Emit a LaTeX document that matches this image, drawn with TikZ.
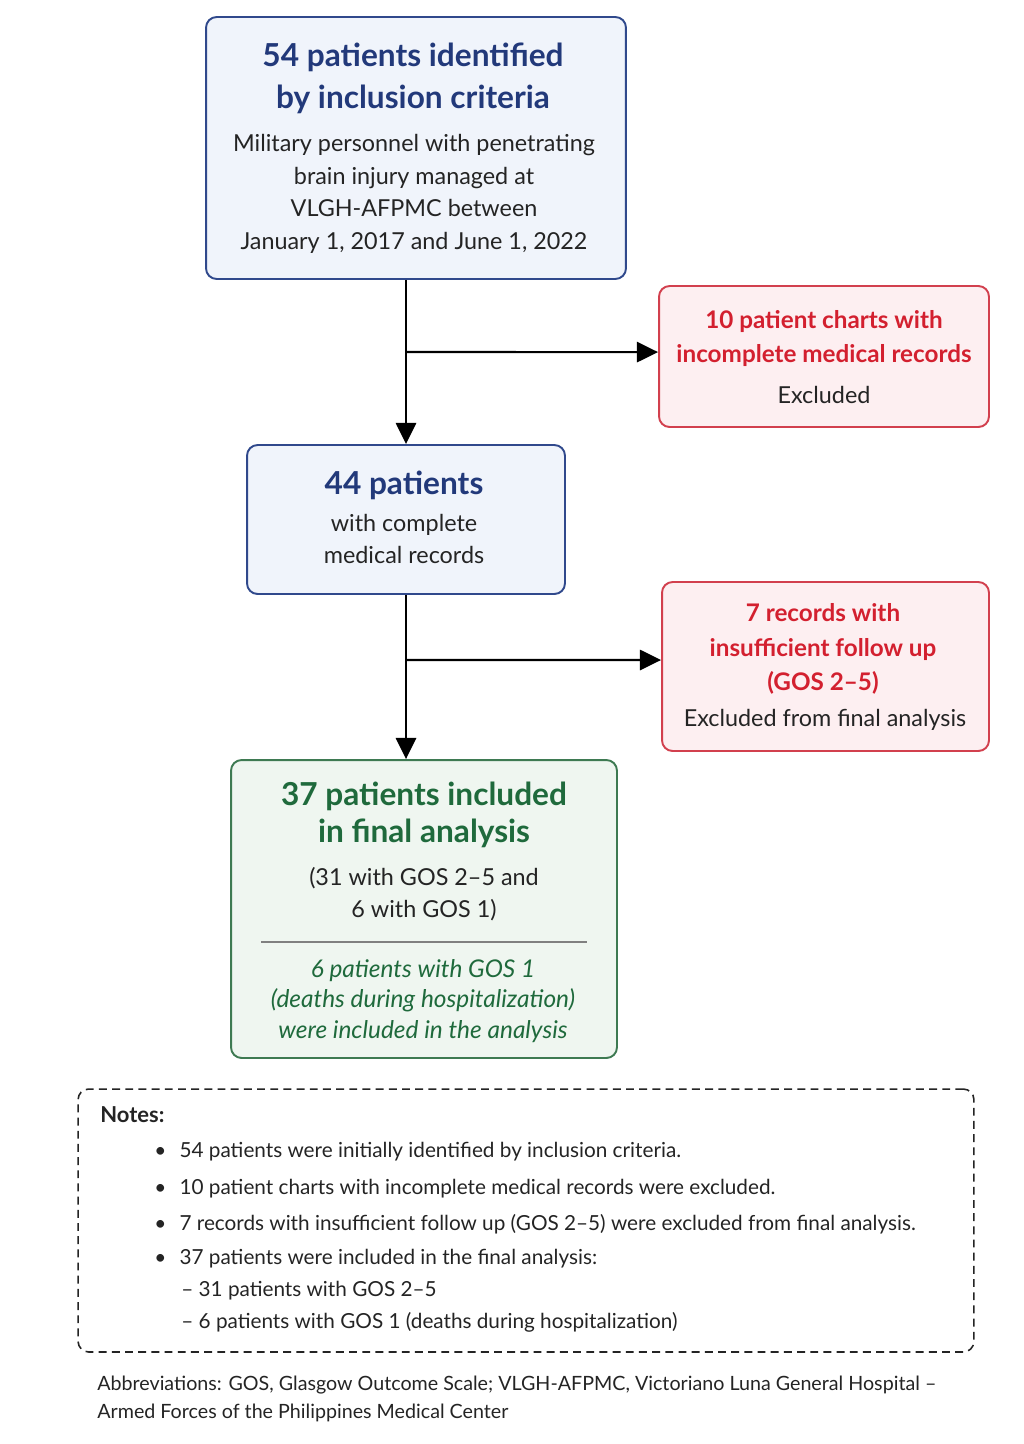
\documentclass[tikz,border=0pt]{standalone}
\usepackage{fontspec}
\setmainfont{Lato}
\usetikzlibrary{arrows.meta}

\definecolor{lineblue}{HTML}{30498C}
\definecolor{fillblue}{HTML}{F0F4FB}
\definecolor{txtblue}{HTML}{22397A}
\definecolor{linered}{HTML}{D2404E}
\definecolor{fillred}{HTML}{FDEFF1}
\definecolor{txtred}{HTML}{D3202F}
\definecolor{linegreen}{HTML}{3E7A52}
\definecolor{fillgreen}{HTML}{EFF6F0}
\definecolor{txtgreen}{HTML}{1F6A3C}
\definecolor{txtgray}{HTML}{242424}

\begin{document}
\begin{tikzpicture}[x=0.02cm,y=-0.02cm]
%%%%%%%%%%%%%%%%%%%%%%%%%%%%%%%%%%%%%%%%%%%%%%%%%%%%%%%%
% STYLE
\tikzstyle{box}=[rectangle,rounded corners=6pt,line width=1.1pt,inner sep=0pt]
\tikzstyle{bluebox}=[box,draw=lineblue,fill=fillblue]
\tikzstyle{redbox}=[box,draw=linered,fill=fillred]
\tikzstyle{greenbox}=[box,draw=linegreen,fill=fillgreen]
\tikzstyle{ttl}=[align=center,font=\fontsize{18}{23.8}\selectfont\bfseries]
\tikzstyle{redttl}=[align=center,text=txtred,font=\fontsize{13.8}{19.6}\selectfont\bfseries]
\tikzstyle{txt}=[align=center,text=txtgray,font=\fontsize{13.3}{18.6}\selectfont]
\tikzstyle{note}=[anchor=west,inner sep=0pt,text=txtgray,font=\fontsize{11.8}{13}\selectfont]

\tikzset{link/.style={-{Triangle[length=12pt,width=11.5pt]},line width=1.2pt}}

\useasboundingbox (0,0) rectangle (1024,1444);
%%%%%%%%%%%%%%%%%%%%%%%%%%%%%%%%%%%%%%%%%%%%%%%%%%%%%%%%
% NODES
\node[bluebox,minimum width=8.4cm,minimum height=5.24cm] (ident) at (416,148) {};
\node[ttl,text=txtblue] (identT) at (413,78) {54 patients identified\\by inclusion criteria};
\node[txt] (identB) at (414,194) {Military personnel with penetrating\\brain injury managed at\\VLGH-AFPMC between\\January 1, 2017 and June 1, 2022};

\node[redbox,minimum width=6.6cm,minimum height=2.82cm] (excl1) at (824,356.5) {};
\node[redttl] (excl1T) at (824,338.5) {10 patient charts with\\incomplete medical records};
\node[txt] (excl1B) at (824,395) {Excluded};

\node[bluebox,minimum width=6.36cm,minimum height=2.98cm] (complete) at (406,519.5) {};
\node[ttl,text=txtblue] (completeT) at (404,485) {44 patients};
\node[txt] (completeB) at (404,539) {with complete\\medical records};

\node[redbox,minimum width=6.54cm,minimum height=3.38cm] (excl2) at (825.5,666.5) {};
\node[redttl] (excl2T) at (823,649) {7 records with\\insufficient follow up\\(GOS 2–5)};
\node[txt] (excl2B) at (825,720) {Excluded from final analysis};

\node[greenbox,minimum width=7.72cm,minimum height=5.96cm] (final) at (424,909) {};
\node[ttl,text=txtgreen,font=\fontsize{18}{21}\selectfont\bfseries] (finalT) at (424,815) {37 patients included\\in final analysis};
\node[txt] (finalB) at (424,894) {(31 with GOS 2–5 and\\6 with GOS 1)};
\node[txt,text=txtgreen,font=\fontsize{13.9}{17.3}\selectfont\itshape] (finalI) at (423,1001) {6 patients with GOS 1\\(deaths during hospitalization)\\were included in the analysis};
\coordinate (ruleL) at (261,942);
\coordinate (ruleR) at (587,942);
\draw[gray,line width=0.6pt] (ruleL) -- (ruleR);

% notes
\node[draw=txtgray,dash pattern=on 4.5pt off 3pt,line width=0.9pt,rounded corners=6pt,minimum width=17.92cm,minimum height=5.26cm] (notes) at (526,1220.5) {};
\node[note,font=\fontsize{12.5}{13}\selectfont\bfseries] (notesT) at (100,1115) {Notes:};
\node[note] (n1) at (154,1152) {\textbullet\hspace{7.5pt}54 patients were initially identified by inclusion criteria.};
\node[note] (n2) at (154,1189) {\textbullet\hspace{7.5pt}10 patient charts with incomplete medical records were excluded.};
\node[note] (n3) at (154,1224) {\textbullet\hspace{7.5pt}7 records with insufficient follow up (GOS 2–5) were excluded from final analysis.};
\node[note] (n4) at (154,1259) {\textbullet\hspace{7.5pt}37 patients were included in the final analysis:};
\node[note] (n5) at (181,1291) {– 31 patients with GOS 2–5};
\node[note] (n6) at (181,1322) {– 6 patients with GOS 1 (deaths during hospitalization)};

\node[note,font=\fontsize{11.2}{13}\selectfont] (abbr1) at (97,1385) {Abbreviations: GOS, Glasgow Outcome Scale; VLGH-AFPMC, Victoriano Luna General Hospital –};
\node[note,font=\fontsize{11.2}{13}\selectfont] (abbr2) at (97,1413) {Armed Forces of the Philippines Medical Center};
%%%%%%%%%%%%%%%%%%%%%%%%%%%%%%%%%%%%%%%%%%%%%%%%%%%%%%%%
% LINKS
\draw[link] (ident.south -| complete.center) -- (complete.north);
\draw[link] (complete.center |- excl1.west) ++(0,-4.5) -- ([yshift=2.5pt]excl1.west);
\draw[link] (complete.south) -- (complete.south |- final.north);
\draw[link] (complete.center |- excl2.west) ++(0,-6.5) -- ([yshift=3.7pt]excl2.west);
\end{tikzpicture}
\end{document}
